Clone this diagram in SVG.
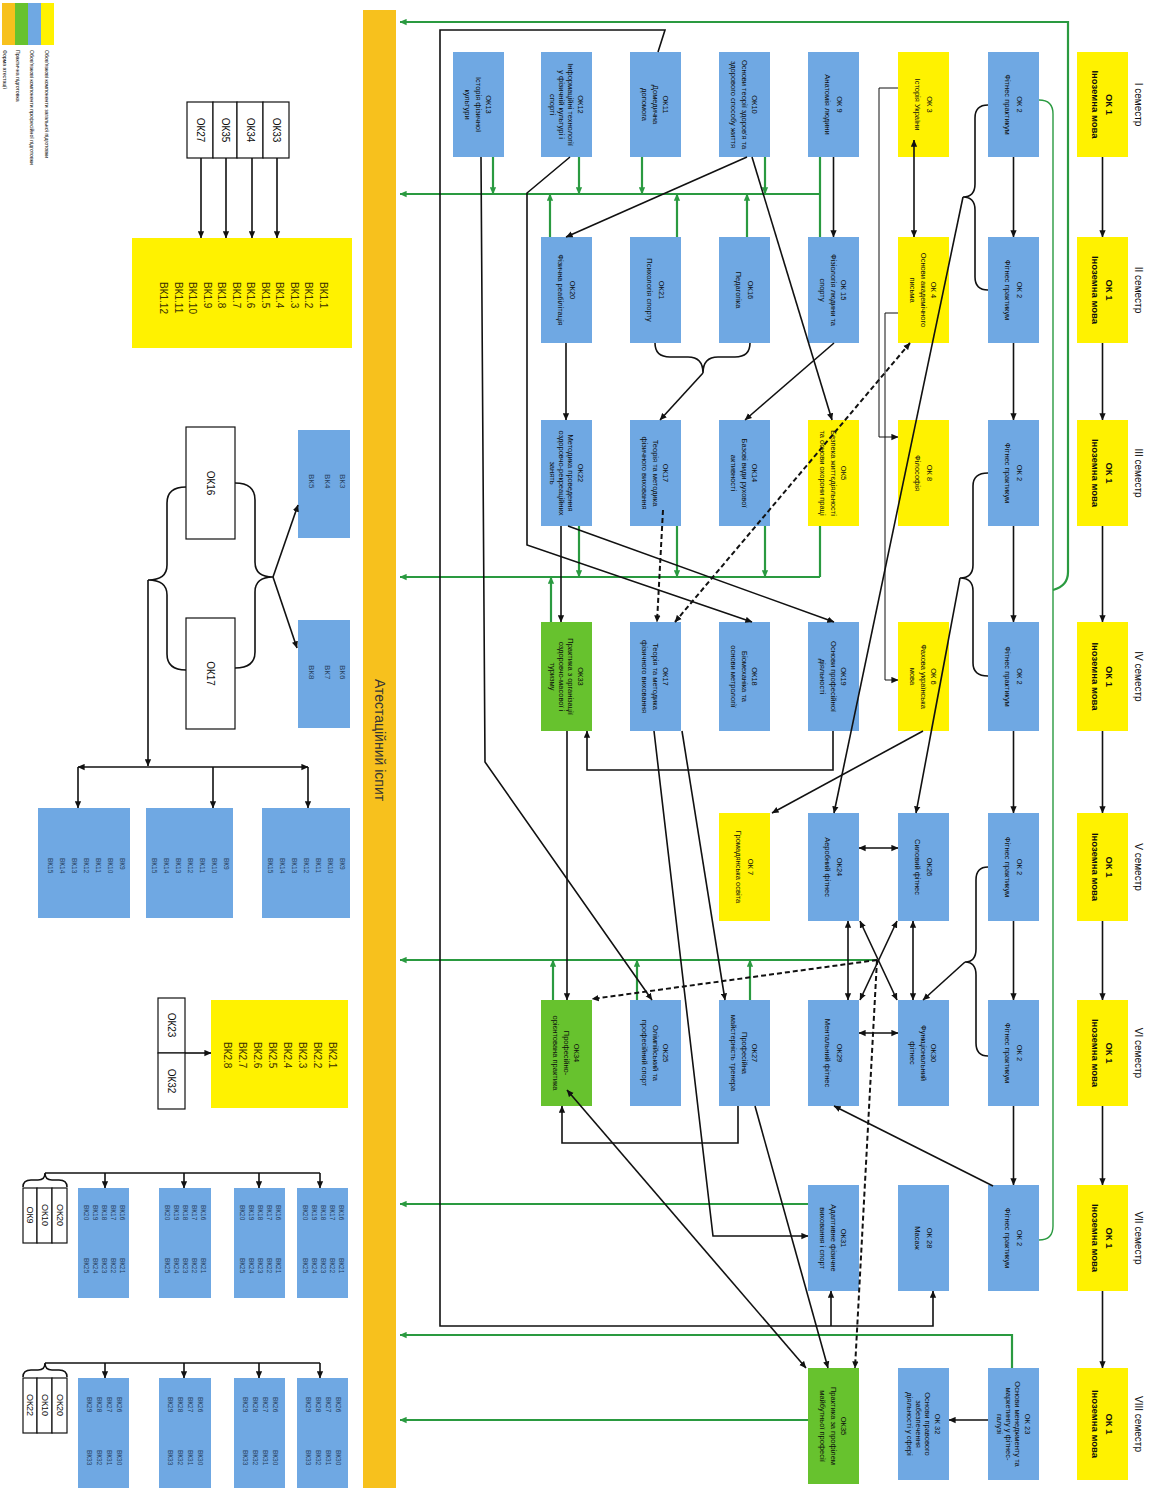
<svg xmlns="http://www.w3.org/2000/svg" width="1152" height="1490" viewBox="0 0 1152 1490">
<defs>
<style>
.b{fill:#6fa8e3}.y{fill:#fff200}.g{fill:#67c22e}.w{fill:#fff;stroke:#111;stroke-width:1.2}.o{fill:#f7c11d}
text,tspan{font-family:"Liberation Sans",Arial,sans-serif;dominant-baseline:central}
text{fill:#0d0d0d}
.t{font-size:7.5px;text-anchor:middle}
.t1{font-size:9.5px;font-weight:bold;text-anchor:middle}
.tw{font-size:10px;text-anchor:middle}
.ls{font-size:10px;text-anchor:start;fill:#3a3000}
.lb{font-size:8px;text-anchor:start;fill:#27415e}
.lt{font-size:6.5px;text-anchor:start;fill:#27415e}
.sem{font-size:10px;text-anchor:middle}
.lg{font-size:5.2px;text-anchor:start}
.ex{font-size:14px;text-anchor:middle;fill:#333}
.c{fill:none;stroke:#111;stroke-width:1.6}
.th{fill:none;stroke:#111;stroke-width:1}
.d{fill:none;stroke:#111;stroke-width:2;stroke-dasharray:5 3}
.gl{fill:none;stroke:#2a9a40;stroke-width:2.2}
.gt{fill:none;stroke:#2a9a40;stroke-width:1.4}
.ae{marker-end:url(#ab)}
.a2{marker-end:url(#ab);marker-start:url(#ab)}
.ge{marker-end:url(#ag)}
</style>
<marker id="ab" viewBox="0 0 10 10" refX="9.5" refY="5" markerWidth="7" markerHeight="7" markerUnits="userSpaceOnUse" orient="auto-start-reverse"><path d="M0,0.5 L10,5 L0,9.5z" fill="#111"/></marker>
<marker id="ag" viewBox="0 0 10 10" refX="9.5" refY="5" markerWidth="7" markerHeight="7" markerUnits="userSpaceOnUse" orient="auto-start-reverse"><path d="M0,0.5 L10,5 L0,9.5z" fill="#2a9a40"/></marker>
</defs>
<rect width="1152" height="1490" fill="#fff"/>

<g id="legend">
<rect class="o" x="2" y="3" width="13" height="42"/><rect class="g" x="15" y="3" width="13" height="42"/><rect class="b" x="28" y="3" width="13" height="42"/><rect class="y" x="41" y="3" width="13" height="42"/>
<text class="lg" transform="translate(47,50) rotate(90)">Обов'язкові компоненти загальної підготовки</text>
<text class="lg" transform="translate(32,50) rotate(90)">Обов'язкові компоненти професійної підготовки</text>
<text class="lg" transform="translate(18,50) rotate(90)">Практична підготовка</text>
<text class="lg" transform="translate(5,50) rotate(90)">Форма атестації</text>
</g>

<g id="exam"><rect class="o" x="363" y="10" width="33" height="1478"/><text class="ex" transform="translate(380,740) rotate(90)">Атестаційний іспит</text></g>

<g id="semesters">
<text class="sem" transform="translate(1138,104.5) rotate(90)">I семестр</text>
<text class="sem" transform="translate(1138,290) rotate(90)">II семестр</text>
<text class="sem" transform="translate(1138,473) rotate(90)">III семестр</text>
<text class="sem" transform="translate(1138,676.5) rotate(90)">IV семестр</text>
<text class="sem" transform="translate(1138,867) rotate(90)">V семестр</text>
<text class="sem" transform="translate(1138,1053) rotate(90)">VI семестр</text>
<text class="sem" transform="translate(1138,1238) rotate(90)">VII семестр</text>
<text class="sem" transform="translate(1138,1424) rotate(90)">VIII семестр</text>
</g>

<!-- Column A: OK1 -->
<g id="ok1-s1"><rect class="y" x="1077" y="52" width="51" height="105"/><text class="t1" transform="translate(1102.5,104.5) rotate(90)"><tspan x="0" y="-7">ОК 1</tspan><tspan x="0" y="7">Іноземна мова</tspan></text></g>
<g id="ok1-s2"><rect class="y" x="1077" y="237" width="51" height="106"/><text class="t1" transform="translate(1102.5,290) rotate(90)"><tspan x="0" y="-7">ОК 1</tspan><tspan x="0" y="7">Іноземна мова</tspan></text></g>
<g id="ok1-s3"><rect class="y" x="1077" y="420" width="51" height="106"/><text class="t1" transform="translate(1102.5,473) rotate(90)"><tspan x="0" y="-7">ОК 1</tspan><tspan x="0" y="7">Іноземна мова</tspan></text></g>
<g id="ok1-s4"><rect class="y" x="1077" y="622" width="51" height="109"/><text class="t1" transform="translate(1102.5,676.5) rotate(90)"><tspan x="0" y="-7">ОК 1</tspan><tspan x="0" y="7">Іноземна мова</tspan></text></g>
<g id="ok1-s5"><rect class="y" x="1077" y="813" width="51" height="108"/><text class="t1" transform="translate(1102.5,867) rotate(90)"><tspan x="0" y="-7">ОК 1</tspan><tspan x="0" y="7">Іноземна мова</tspan></text></g>
<g id="ok1-s6"><rect class="y" x="1077" y="1000" width="51" height="106"/><text class="t1" transform="translate(1102.5,1053) rotate(90)"><tspan x="0" y="-7">ОК 1</tspan><tspan x="0" y="7">Іноземна мова</tspan></text></g>
<g id="ok1-s7"><rect class="y" x="1077" y="1185" width="51" height="106"/><text class="t1" transform="translate(1102.5,1238) rotate(90)"><tspan x="0" y="-7">ОК 1</tspan><tspan x="0" y="7">Іноземна мова</tspan></text></g>
<g id="ok1-s8"><rect class="y" x="1077" y="1368" width="51" height="112"/><text class="t1" transform="translate(1102.5,1424) rotate(90)"><tspan x="0" y="-7">ОК 1</tspan><tspan x="0" y="7">Іноземна мова</tspan></text></g>

<!-- Column B -->
<g id="ok2-s1"><rect class="b" x="988" y="52" width="51" height="105"/><text class="t" transform="translate(1013.5,104.5) rotate(90)"><tspan x="0" y="-6">ОК 2</tspan><tspan x="0" y="6">Фітнес практикум</tspan></text></g>
<g id="ok2-s2"><rect class="b" x="988" y="237" width="51" height="106"/><text class="t" transform="translate(1013.5,290) rotate(90)"><tspan x="0" y="-6">ОК 2</tspan><tspan x="0" y="6">Фітнес практикум</tspan></text></g>
<g id="ok2-s3"><rect class="b" x="988" y="420" width="51" height="106"/><text class="t" transform="translate(1013.5,473) rotate(90)"><tspan x="0" y="-6">ОК 2</tspan><tspan x="0" y="6">Фітнес практикум</tspan></text></g>
<g id="ok2-s4"><rect class="b" x="988" y="622" width="51" height="109"/><text class="t" transform="translate(1013.5,676.5) rotate(90)"><tspan x="0" y="-6">ОК 2</tspan><tspan x="0" y="6">Фітнес практикум</tspan></text></g>
<g id="ok2-s5"><rect class="b" x="988" y="813" width="51" height="108"/><text class="t" transform="translate(1013.5,867) rotate(90)"><tspan x="0" y="-6">ОК 2</tspan><tspan x="0" y="6">Фітнес практикум</tspan></text></g>
<g id="ok2-s6"><rect class="b" x="988" y="1000" width="51" height="106"/><text class="t" transform="translate(1013.5,1053) rotate(90)"><tspan x="0" y="-6">ОК 2</tspan><tspan x="0" y="6">Фітнес практикум</tspan></text></g>
<g id="ok2-s7"><rect class="b" x="988" y="1185" width="51" height="106"/><text class="t" transform="translate(1013.5,1238) rotate(90)"><tspan x="0" y="-6">ОК 2</tspan><tspan x="0" y="6">Фітнес практикум</tspan></text></g>
<g id="ok23"><rect class="b" x="988" y="1368" width="51" height="112"/><text class="t" transform="translate(1013.5,1424) rotate(90)"><tspan x="0" y="-14">ОК 23</tspan><tspan x="0" y="-4.7">Основи менеджменту та</tspan><tspan x="0" y="4.7">маркетингу у фітнес-</tspan><tspan x="0" y="14">галузі</tspan></text></g>

<!-- Column C -->
<g id="ok3"><rect class="y" x="898" y="52" width="51" height="105"/><text class="t" transform="translate(923.5,104.5) rotate(90)"><tspan x="0" y="-6">ОК 3</tspan><tspan x="0" y="6">Історія України</tspan></text></g>
<g id="ok4"><rect class="y" x="898" y="237" width="51" height="106"/><text class="t" transform="translate(923.5,290) rotate(90)"><tspan x="0" y="-10.5">ОК 4</tspan><tspan x="0" y="0">Основи академічного</tspan><tspan x="0" y="10.5">письма</tspan></text></g>
<g id="ok8"><rect class="y" x="898" y="420" width="51" height="106"/><text class="t" transform="translate(923.5,473) rotate(90)"><tspan x="0" y="-6">ОК 8</tspan><tspan x="0" y="6">Філософія</tspan></text></g>
<g id="ok6"><rect class="y" x="898" y="622" width="51" height="109"/><text class="t" transform="translate(923.5,676.5) rotate(90)"><tspan x="0" y="-10.5">ОК 6</tspan><tspan x="0" y="0">Фахова українська</tspan><tspan x="0" y="10.5">мова</tspan></text></g>
<g id="ok26"><rect class="b" x="898" y="813" width="51" height="108"/><text class="t" transform="translate(923.5,867) rotate(90)"><tspan x="0" y="-6">ОК26</tspan><tspan x="0" y="6">Силовий фітнес</tspan></text></g>
<g id="ok30"><rect class="b" x="898" y="1000" width="51" height="106"/><text class="t" transform="translate(923.5,1053) rotate(90)"><tspan x="0" y="-10.5">ОК30</tspan><tspan x="0" y="0">Функціональний</tspan><tspan x="0" y="10.5">фітнес</tspan></text></g>
<g id="ok28"><rect class="b" x="898" y="1185" width="51" height="106"/><text class="t" transform="translate(923.5,1238) rotate(90)"><tspan x="0" y="-6">ОК 28</tspan><tspan x="0" y="6">Масаж</tspan></text></g>
<g id="ok32"><rect class="b" x="898" y="1368" width="51" height="112"/><text class="t" transform="translate(923.5,1424) rotate(90)"><tspan x="0" y="-14">ОК 32</tspan><tspan x="0" y="-4.7">Основи правового</tspan><tspan x="0" y="4.7">забезпечення</tspan><tspan x="0" y="14">діяльності у сфері</tspan></text></g>

<!-- Column D -->
<g id="ok9"><rect class="b" x="808" y="52" width="51" height="105"/><text class="t" transform="translate(833.5,104.5) rotate(90)"><tspan x="0" y="-6">ОК 9</tspan><tspan x="0" y="6">Анатомія людини</tspan></text></g>
<g id="ok15"><rect class="b" x="808" y="237" width="51" height="106"/><text class="t" transform="translate(833.5,290) rotate(90)"><tspan x="0" y="-10.5">ОК 15</tspan><tspan x="0" y="0">Фізіологія людини та</tspan><tspan x="0" y="10.5">спорту</tspan></text></g>
<g id="ok5"><rect class="y" x="808" y="420" width="51" height="106"/><text class="t" transform="translate(833.5,473) rotate(90)"><tspan x="0" y="-10.5">ОК5</tspan><tspan x="0" y="0">Безпека життєдіяльності</tspan><tspan x="0" y="10.5">та основи охорони праці</tspan></text></g>
<g id="ok19"><rect class="b" x="808" y="622" width="51" height="109"/><text class="t" transform="translate(833.5,676.5) rotate(90)"><tspan x="0" y="-10.5">ОК19</tspan><tspan x="0" y="0">Основи професійної</tspan><tspan x="0" y="10.5">діяльності</tspan></text></g>
<g id="ok24"><rect class="b" x="808" y="813" width="51" height="108"/><text class="t" transform="translate(833.5,867) rotate(90)"><tspan x="0" y="-6">ОК24</tspan><tspan x="0" y="6">Аеробний фітнес</tspan></text></g>
<g id="ok29"><rect class="b" x="808" y="1000" width="51" height="106"/><text class="t" transform="translate(833.5,1053) rotate(90)"><tspan x="0" y="-6">ОК29</tspan><tspan x="0" y="6">Ментальний фітнес</tspan></text></g>
<g id="ok31"><rect class="b" x="808" y="1185" width="51" height="106"/><text class="t" transform="translate(833.5,1238) rotate(90)"><tspan x="0" y="-10.5">ОК31</tspan><tspan x="0" y="0">Адаптивне фізичне</tspan><tspan x="0" y="10.5">виховання і спорт</tspan></text></g>
<g id="ok35"><rect class="g" x="808" y="1368" width="51" height="116"/><text class="t" transform="translate(833.5,1426) rotate(90)"><tspan x="0" y="-10.5">ОК35</tspan><tspan x="0" y="0">Практика за профілем</tspan><tspan x="0" y="10.5">майбутньої професії</tspan></text></g>

<!-- Column E -->
<g id="ok10"><rect class="b" x="719" y="52" width="51" height="105"/><text class="t" transform="translate(744.5,104.5) rotate(90)"><tspan x="0" y="-10.5">ОК10</tspan><tspan x="0" y="0">Основи теорії здоров'я та</tspan><tspan x="0" y="10.5">здорового способу життя</tspan></text></g>
<g id="ok16"><rect class="b" x="719" y="237" width="51" height="106"/><text class="t" transform="translate(744.5,290) rotate(90)"><tspan x="0" y="-6">ОК16</tspan><tspan x="0" y="6">Педагогіка</tspan></text></g>
<g id="ok14"><rect class="b" x="719" y="420" width="51" height="106"/><text class="t" transform="translate(744.5,473) rotate(90)"><tspan x="0" y="-10.5">ОК14</tspan><tspan x="0" y="0">Базові види рухової</tspan><tspan x="0" y="10.5">активності</tspan></text></g>
<g id="ok18"><rect class="b" x="719" y="622" width="51" height="109"/><text class="t" transform="translate(744.5,676.5) rotate(90)"><tspan x="0" y="-10.5">ОК18</tspan><tspan x="0" y="0">Біомеханіка та</tspan><tspan x="0" y="10.5">основи метрології</tspan></text></g>
<g id="ok7"><rect class="y" x="719" y="813" width="51" height="108"/><text class="t" transform="translate(744.5,867) rotate(90)"><tspan x="0" y="-6">ОК 7</tspan><tspan x="0" y="6">Громадянська освіта</tspan></text></g>
<g id="ok27"><rect class="b" x="719" y="1000" width="51" height="106"/><text class="t" transform="translate(744.5,1053) rotate(90)"><tspan x="0" y="-10.5">ОК27</tspan><tspan x="0" y="0">Професійна</tspan><tspan x="0" y="10.5">майстерність тренера</tspan></text></g>

<!-- Column F -->
<g id="ok11"><rect class="b" x="630" y="52" width="51" height="105"/><text class="t" transform="translate(655.5,104.5) rotate(90)"><tspan x="0" y="-10.5">ОК11</tspan><tspan x="0" y="0">Домедична</tspan><tspan x="0" y="10.5">допомога</tspan></text></g>
<g id="ok21"><rect class="b" x="630" y="237" width="51" height="106"/><text class="t" transform="translate(655.5,290) rotate(90)"><tspan x="0" y="-6">ОК21</tspan><tspan x="0" y="6">Психологія спорту</tspan></text></g>
<g id="ok17-s3"><rect class="b" x="630" y="420" width="51" height="106"/><text class="t" transform="translate(655.5,473) rotate(90)"><tspan x="0" y="-10.5">ОК17</tspan><tspan x="0" y="0">Теорія та методика</tspan><tspan x="0" y="10.5">фізичного виховання</tspan></text></g>
<g id="ok17-s4"><rect class="b" x="630" y="622" width="51" height="109"/><text class="t" transform="translate(655.5,676.5) rotate(90)"><tspan x="0" y="-10.5">ОК17</tspan><tspan x="0" y="0">Теорія та методика</tspan><tspan x="0" y="10.5">фізичного виховання</tspan></text></g>
<g id="ok25"><rect class="b" x="630" y="1000" width="51" height="106"/><text class="t" transform="translate(655.5,1053) rotate(90)"><tspan x="0" y="-10.5">ОК25</tspan><tspan x="0" y="0">Олімпійський та</tspan><tspan x="0" y="10.5">професійний спорт</tspan></text></g>

<!-- Column G -->
<g id="ok12"><rect class="b" x="541" y="52" width="51" height="105"/><text class="t" transform="translate(566.5,104.5) rotate(90)"><tspan x="0" y="-14">ОК12</tspan><tspan x="0" y="-4.7">Інформаційні технології</tspan><tspan x="0" y="4.7">у фізичній культурі і</tspan><tspan x="0" y="14">спорті</tspan></text></g>
<g id="ok20"><rect class="b" x="541" y="237" width="51" height="106"/><text class="t" transform="translate(566.5,290) rotate(90)"><tspan x="0" y="-6">ОК20</tspan><tspan x="0" y="6">Фізична реабілітація</tspan></text></g>
<g id="ok22"><rect class="b" x="541" y="420" width="51" height="106"/><text class="t" transform="translate(566.5,473) rotate(90)"><tspan x="0" y="-14">ОК22</tspan><tspan x="0" y="-4.7">Методика проведення</tspan><tspan x="0" y="4.7">оздоровчо-рекреаційних</tspan><tspan x="0" y="14">занять</tspan></text></g>
<g id="ok33"><rect class="g" x="541" y="622" width="51" height="109"/><text class="t" transform="translate(566.5,676.5) rotate(90)"><tspan x="0" y="-14">ОК33</tspan><tspan x="0" y="-4.7">Практика з організації</tspan><tspan x="0" y="4.7">оздоровчо-масової і</tspan><tspan x="0" y="14">туризму</tspan></text></g>
<g id="ok34"><rect class="g" x="541" y="1000" width="51" height="106"/><text class="t" transform="translate(566.5,1053) rotate(90)"><tspan x="0" y="-10.5">ОК34</tspan><tspan x="0" y="0">Професійно-</tspan><tspan x="0" y="10.5">орієнтована практика</tspan></text></g>

<!-- Column H -->
<g id="ok13"><rect class="b" x="453" y="52" width="51" height="105"/><text class="t" transform="translate(478.5,104.5) rotate(90)"><tspan x="0" y="-10.5">ОК13</tspan><tspan x="0" y="0">Історія фізичної</tspan><tspan x="0" y="10.5">культури</tspan></text></g>

<!-- Left side: elective blocks -->
<g id="ref-ok27-35-34-33">
<rect class="w" x="187" y="102" width="26" height="56"/><rect class="w" x="213" y="102" width="24" height="56"/><rect class="w" x="237" y="102" width="26" height="56"/><rect class="w" x="263" y="102" width="26" height="56"/>
<text class="tw" transform="translate(200,130) rotate(90)">ОК27</text><text class="tw" transform="translate(225,130) rotate(90)">ОК35</text><text class="tw" transform="translate(250,130) rotate(90)">ОК34</text><text class="tw" transform="translate(276,130) rotate(90)">ОК33</text>
</g>
<g id="vk1"><rect class="y" x="132" y="238" width="220" height="110"/>
<text class="ls" transform="translate(323,282) rotate(90)">ВК1.1</text><text class="ls" transform="translate(308.5,282) rotate(90)">ВК1.2</text><text class="ls" transform="translate(294,282) rotate(90)">ВК1.3</text><text class="ls" transform="translate(279.5,282) rotate(90)">ВК1.4</text><text class="ls" transform="translate(265,282) rotate(90)">ВК1.5</text><text class="ls" transform="translate(250.5,282) rotate(90)">ВК1.6</text><text class="ls" transform="translate(236,282) rotate(90)">ВК1.7</text><text class="ls" transform="translate(221.5,282) rotate(90)">ВК1.8</text><text class="ls" transform="translate(207,282) rotate(90)">ВК1.9</text><text class="ls" transform="translate(192.5,282) rotate(90)">ВК1.10</text><text class="ls" transform="translate(178,282) rotate(90)">ВК1.11</text><text class="ls" transform="translate(163.5,282) rotate(90)">ВК1.12</text>
</g>
<g id="ref-ok16"><rect class="w" x="186" y="427" width="49" height="112"/><text class="tw" transform="translate(210.5,483) rotate(90)">ОК16</text></g>
<g id="ref-ok17"><rect class="w" x="186" y="618" width="49" height="111"/><text class="tw" transform="translate(210.5,673.5) rotate(90)">ОК17</text></g>
<g id="vk3-5"><rect class="b" x="298" y="430" width="52" height="108"/><text class="lb" transform="translate(342,474) rotate(90)">ВК3</text><text class="lb" transform="translate(327,474) rotate(90)">ВК4</text><text class="lb" transform="translate(311,474) rotate(90)">ВК5</text></g>
<g id="vk6-8"><rect class="b" x="298" y="620" width="52" height="108"/><text class="lb" transform="translate(342,665) rotate(90)">ВК6</text><text class="lb" transform="translate(327,665) rotate(90)">ВК7</text><text class="lb" transform="translate(311,665) rotate(90)">ВК8</text></g>
<g id="vk9-a"><rect class="b" x="262" y="808" width="88" height="110"/>
<text class="lt" transform="translate(342,858) rotate(90)">ВК9</text><text class="lt" transform="translate(330,858) rotate(90)">ВК10</text><text class="lt" transform="translate(318,858) rotate(90)">ВК11</text><text class="lt" transform="translate(306,858) rotate(90)">ВК12</text><text class="lt" transform="translate(294,858) rotate(90)">ВК13</text><text class="lt" transform="translate(282,858) rotate(90)">ВК14</text><text class="lt" transform="translate(270,858) rotate(90)">ВК15</text></g>
<g id="vk9-b"><rect class="b" x="146" y="808" width="87" height="110"/>
<text class="lt" transform="translate(226,858) rotate(90)">ВК9</text><text class="lt" transform="translate(214,858) rotate(90)">ВК10</text><text class="lt" transform="translate(202,858) rotate(90)">ВК11</text><text class="lt" transform="translate(190,858) rotate(90)">ВК12</text><text class="lt" transform="translate(178,858) rotate(90)">ВК13</text><text class="lt" transform="translate(166,858) rotate(90)">ВК14</text><text class="lt" transform="translate(154,858) rotate(90)">ВК15</text></g>
<g id="vk9-c"><rect class="b" x="38" y="808" width="92" height="110"/>
<text class="lt" transform="translate(122,858) rotate(90)">ВК9</text><text class="lt" transform="translate(110,858) rotate(90)">ВК10</text><text class="lt" transform="translate(98,858) rotate(90)">ВК11</text><text class="lt" transform="translate(86,858) rotate(90)">ВК12</text><text class="lt" transform="translate(74,858) rotate(90)">ВК13</text><text class="lt" transform="translate(62,858) rotate(90)">ВК14</text><text class="lt" transform="translate(50,858) rotate(90)">ВК15</text></g>
<g id="vk2"><rect class="y" x="211" y="1000" width="137" height="108"/>
<text class="ls" transform="translate(332,1042) rotate(90)">ВК2.1</text><text class="ls" transform="translate(317,1042) rotate(90)">ВК2.2</text><text class="ls" transform="translate(302,1042) rotate(90)">ВК2.3</text><text class="ls" transform="translate(287,1042) rotate(90)">ВК2.4</text><text class="ls" transform="translate(272,1042) rotate(90)">ВК2.5</text><text class="ls" transform="translate(257,1042) rotate(90)">ВК2.6</text><text class="ls" transform="translate(242,1042) rotate(90)">ВК2.7</text><text class="ls" transform="translate(227,1042) rotate(90)">ВК2.8</text></g>
<g id="ref-ok23-32"><rect class="w" x="158" y="998" width="27" height="55"/><rect class="w" x="158" y="1053" width="27" height="56"/><text class="tw" transform="translate(171.5,1025) rotate(90)">ОК23</text><text class="tw" transform="translate(171.5,1081) rotate(90)">ОК32</text></g>

<g id="vk-g1">
<rect class="b" x="297" y="1188" width="51" height="110"/><rect class="b" x="234" y="1188" width="51" height="110"/><rect class="b" x="159" y="1188" width="52" height="110"/><rect class="b" x="78" y="1188" width="51" height="110"/>
<text class="lt" transform="translate(341,1205) rotate(90)">ВК16</text><text class="lt" transform="translate(332,1205) rotate(90)">ВК17</text><text class="lt" transform="translate(323,1205) rotate(90)">ВК18</text><text class="lt" transform="translate(314,1205) rotate(90)">ВК19</text><text class="lt" transform="translate(305,1205) rotate(90)">ВК20</text>
<text class="lt" transform="translate(341,1258) rotate(90)">ВК21</text><text class="lt" transform="translate(332,1258) rotate(90)">ВК22</text><text class="lt" transform="translate(323,1258) rotate(90)">ВК23</text><text class="lt" transform="translate(314,1258) rotate(90)">ВК24</text><text class="lt" transform="translate(305,1258) rotate(90)">ВК25</text>
<text class="lt" transform="translate(278,1205) rotate(90)">ВК16</text><text class="lt" transform="translate(269,1205) rotate(90)">ВК17</text><text class="lt" transform="translate(260,1205) rotate(90)">ВК18</text><text class="lt" transform="translate(251,1205) rotate(90)">ВК19</text><text class="lt" transform="translate(242,1205) rotate(90)">ВК20</text>
<text class="lt" transform="translate(278,1258) rotate(90)">ВК21</text><text class="lt" transform="translate(269,1258) rotate(90)">ВК22</text><text class="lt" transform="translate(260,1258) rotate(90)">ВК23</text><text class="lt" transform="translate(251,1258) rotate(90)">ВК24</text><text class="lt" transform="translate(242,1258) rotate(90)">ВК25</text>
<text class="lt" transform="translate(203,1205) rotate(90)">ВК16</text><text class="lt" transform="translate(194,1205) rotate(90)">ВК17</text><text class="lt" transform="translate(185,1205) rotate(90)">ВК18</text><text class="lt" transform="translate(176,1205) rotate(90)">ВК19</text><text class="lt" transform="translate(167,1205) rotate(90)">ВК20</text>
<text class="lt" transform="translate(203,1258) rotate(90)">ВК21</text><text class="lt" transform="translate(194,1258) rotate(90)">ВК22</text><text class="lt" transform="translate(185,1258) rotate(90)">ВК23</text><text class="lt" transform="translate(176,1258) rotate(90)">ВК24</text><text class="lt" transform="translate(167,1258) rotate(90)">ВК25</text>
<text class="lt" transform="translate(122,1205) rotate(90)">ВК16</text><text class="lt" transform="translate(113,1205) rotate(90)">ВК17</text><text class="lt" transform="translate(104,1205) rotate(90)">ВК18</text><text class="lt" transform="translate(95,1205) rotate(90)">ВК19</text><text class="lt" transform="translate(86,1205) rotate(90)">ВК20</text>
<text class="lt" transform="translate(122,1258) rotate(90)">ВК21</text><text class="lt" transform="translate(113,1258) rotate(90)">ВК22</text><text class="lt" transform="translate(104,1258) rotate(90)">ВК23</text><text class="lt" transform="translate(95,1258) rotate(90)">ВК24</text><text class="lt" transform="translate(86,1258) rotate(90)">ВК25</text>
</g>
<g id="ref-g1"><rect class="w" x="23" y="1188" width="14" height="55"/><rect class="w" x="37" y="1188" width="15" height="55"/><rect class="w" x="52" y="1188" width="15" height="55"/>
<text class="tw" style="font-size:9px" transform="translate(30,1215) rotate(90)">ОК9</text><text class="tw" style="font-size:9px" transform="translate(44.5,1215) rotate(90)">ОК10</text><text class="tw" style="font-size:9px" transform="translate(59.5,1215) rotate(90)">ОК20</text></g>

<g id="vk-g2">
<rect class="b" x="297" y="1378" width="51" height="110"/><rect class="b" x="234" y="1378" width="51" height="110"/><rect class="b" x="159" y="1378" width="52" height="110"/><rect class="b" x="78" y="1378" width="51" height="110"/>
<text class="lt" transform="translate(338,1397) rotate(90)">ВК26</text><text class="lt" transform="translate(328,1397) rotate(90)">ВК27</text><text class="lt" transform="translate(318,1397) rotate(90)">ВК28</text><text class="lt" transform="translate(308,1397) rotate(90)">ВК29</text>
<text class="lt" transform="translate(338,1450) rotate(90)">ВК30</text><text class="lt" transform="translate(328,1450) rotate(90)">ВК31</text><text class="lt" transform="translate(318,1450) rotate(90)">ВК32</text><text class="lt" transform="translate(308,1450) rotate(90)">ВК33</text>
<text class="lt" transform="translate(275,1397) rotate(90)">ВК26</text><text class="lt" transform="translate(265,1397) rotate(90)">ВК27</text><text class="lt" transform="translate(255,1397) rotate(90)">ВК28</text><text class="lt" transform="translate(245,1397) rotate(90)">ВК29</text>
<text class="lt" transform="translate(275,1450) rotate(90)">ВК30</text><text class="lt" transform="translate(265,1450) rotate(90)">ВК31</text><text class="lt" transform="translate(255,1450) rotate(90)">ВК32</text><text class="lt" transform="translate(245,1450) rotate(90)">ВК33</text>
<text class="lt" transform="translate(200,1397) rotate(90)">ВК26</text><text class="lt" transform="translate(190,1397) rotate(90)">ВК27</text><text class="lt" transform="translate(180,1397) rotate(90)">ВК28</text><text class="lt" transform="translate(170,1397) rotate(90)">ВК29</text>
<text class="lt" transform="translate(200,1450) rotate(90)">ВК30</text><text class="lt" transform="translate(190,1450) rotate(90)">ВК31</text><text class="lt" transform="translate(180,1450) rotate(90)">ВК32</text><text class="lt" transform="translate(170,1450) rotate(90)">ВК33</text>
<text class="lt" transform="translate(119,1397) rotate(90)">ВК26</text><text class="lt" transform="translate(109,1397) rotate(90)">ВК27</text><text class="lt" transform="translate(99,1397) rotate(90)">ВК28</text><text class="lt" transform="translate(89,1397) rotate(90)">ВК29</text>
<text class="lt" transform="translate(119,1450) rotate(90)">ВК30</text><text class="lt" transform="translate(109,1450) rotate(90)">ВК31</text><text class="lt" transform="translate(99,1450) rotate(90)">ВК32</text><text class="lt" transform="translate(89,1450) rotate(90)">ВК33</text>
</g>
<g id="ref-g2"><rect class="w" x="23" y="1378" width="14" height="55"/><rect class="w" x="37" y="1378" width="15" height="55"/><rect class="w" x="52" y="1378" width="15" height="55"/>
<text class="tw" style="font-size:9px" transform="translate(30,1405) rotate(90)">ОК22</text><text class="tw" style="font-size:9px" transform="translate(44.5,1405) rotate(90)">ОК10</text><text class="tw" style="font-size:9px" transform="translate(59.5,1405) rotate(90)">ОК20</text></g>

<g id="connectors">
<!-- green lines to exam -->
<path class="gl ge" d="M1053,590 Q1068,586 1068,572 L1068,22 L400,22"/>
<path class="gt" d="M1039,100 Q1053,100 1053,114 L1053,1226 Q1053,1240 1039,1240"/>
<path class="gl ge" d="M820,194 L400,194"/>
<path class="gl" d="M820,157 L820,237"/>
<path class="gl ge" d="M493,157 L493,194"/><path class="gl ge" d="M579,157 L579,194"/><path class="gl ge" d="M642,157 L642,194"/><path class="gl ge" d="M765,157 L765,194"/>
<path class="gl ge" d="M550,237 L550,194"/><path class="gl ge" d="M677,237 L677,194"/><path class="gl ge" d="M747,237 L747,194"/>
<path class="gl ge" d="M820,577 L400,577"/>
<path class="gl ge" d="M579,526 L579,577"/><path class="gl ge" d="M677,526 L677,577"/><path class="gl ge" d="M765,526 L765,577"/><path class="gl" d="M820,526 L820,577"/>
<path class="gl ge" d="M551,622 L551,577"/>
<path class="gl ge" d="M877,960 L400,960"/>
<path class="gl ge" d="M553,1000 L553,960"/><path class="gl ge" d="M637,1000 L637,960"/><path class="gl ge" d="M750,1000 L750,960"/>
<path class="gl ge" d="M808,1204 L400,1204"/>
<path class="gl ge" d="M1012,1368 L1012,1335 L400,1335"/>
<path class="gl ge" d="M808,1420 L400,1420"/>

<!-- OK1 and OK2 chains -->
<path class="c ae" d="M1102.5,157 L1102.5,237"/><path class="c ae" d="M1102.5,343 L1102.5,420"/><path class="c ae" d="M1102.5,526 L1102.5,622"/><path class="c ae" d="M1102.5,731 L1102.5,813"/><path class="c ae" d="M1102.5,921 L1102.5,1000"/><path class="c ae" d="M1102.5,1106 L1102.5,1185"/><path class="c ae" d="M1102.5,1291 L1102.5,1368"/>
<path class="c ae" d="M1013.5,157 L1013.5,237"/><path class="c ae" d="M1013.5,343 L1013.5,420"/><path class="c ae" d="M1013.5,526 L1013.5,622"/><path class="c ae" d="M1013.5,731 L1013.5,813"/><path class="c ae" d="M1013.5,921 L1013.5,1000"/><path class="c ae" d="M1013.5,1106 L1013.5,1185"/>

<!-- braces from OK2 -->
<path class="c" d="M988,105 Q975,105 975,118 L975,184 Q975,197 963,197 Q975,197 975,210 L975,277 Q975,290 988,290"/>
<path class="c ae" d="M963,197 L834,813"/>
<path class="c" d="M988,473 Q973,473 973,486 L973,565 Q973,578 960,578 Q973,578 973,591 L973,663 Q973,676 988,676"/>
<path class="c ae" d="M960,578 L916,813"/>
<path class="c" d="M988,867 Q976,867 976,880 L976,949 Q976,962 965,962 Q976,962 976,975 L976,1043 Q976,1056 988,1056"/>
<path class="c ae" d="M965,962 L923,1000"/>
<path class="c ae" d="M993,1186 L834,1106"/>

<!-- column C links -->
<path class="c a2" d="M914,140 L914,237"/>
<path class="th ae" d="M898,88 L879,88 L879,437 L898,437"/>
<path class="th ae" d="M898,313 L885,313 L885,680 L898,680"/>
<path class="c ae" d="M923,731 L772,813"/>

<!-- S1-S4 links -->
<path class="c ae" d="M833.5,157 L833.5,237"/>
<path class="c ae" d="M834,343 L745,420"/>
<path class="c ae" d="M747,157 L566,237"/>
<path class="c ae" d="M752,157 L832,420"/>
<path class="c" d="M655,343 Q655,357 670,357 L688,357 Q703,357 703,373 Q703,357 718,357 L735,357 Q750,357 750,343"/>
<path class="c ae" d="M703,373 L660,420"/>
<path class="c ae" d="M566,343 L566,420"/>
<path class="c ae" d="M561,526 L561,622"/>
<path class="c ae" d="M570,157 L527,193 L527,545 L752,622"/>
<path class="c ae" d="M568,526 L834,622"/>
<path class="c ae" d="M833,731 L833,770 L587,770 L587,731"/>
<path class="c ae" d="M567,731 L567,1000"/>
<path class="c ae" d="M738,1106 L738,1143 L562,1143 L562,1106"/>
<path class="c ae" d="M654,731 L713,1236 L808,1236"/>
<path class="c ae" d="M682,731 L725,1000"/>
<path class="c ae" d="M755,1106 L828,1368"/>
<path class="c a2" d="M567,1090 L806,1368"/>
<path class="c ae" d="M481,157 L485,762 L652,1000"/>
<path class="c ae" d="M658,52 L665,30 L440,30 L440,1326 L933,1326 L933,1291"/>
<path class="c ae" d="M831,1326 L831,1291"/>
<path class="c ae" d="M988,1420 L949,1420"/>

<!-- fitness cluster -->
<path class="c a2" d="M859,848 L898,848"/>
<path class="c a2" d="M859,1033 L898,1033"/>
<path class="c a2" d="M848,921 L848,1000"/>
<path class="c a2" d="M913,921 L913,1000"/>
<path class="c a2" d="M860,921 L897,1000"/>
<path class="c a2" d="M897,921 L860,1000"/>

<!-- dashed -->
<path class="d ae" d="M663,510 L657,622"/>
<path class="d a2" d="M910,343 L675,622"/>
<path class="d ae" d="M877,960 L592,999"/>
<path class="d ae" d="M877,960 L855,1368"/>

<!-- left side -->
<path class="c ae" d="M201,158 L201,238"/><path class="c ae" d="M226,158 L226,238"/><path class="c ae" d="M252,158 L252,238"/><path class="c ae" d="M277,158 L277,238"/>
<path class="c" d="M235,483 Q255,483 255,500 L255,562 Q255,577 273,577 Q255,577 255,592 L255,652 Q255,668 235,668"/>
<path class="c" d="M186,487 Q167,487 167,503 L167,565 Q167,580 148,580 Q167,580 167,595 L167,654 Q167,670 186,670"/>
<path class="c ae" d="M273,577 L298,505"/><path class="c ae" d="M273,577 L297,648"/>
<path class="c ae" d="M148,580 L148,766"/>
<path class="c a2" d="M78,767 L308,767"/>
<path class="c ae" d="M78,767 L78,808"/><path class="c ae" d="M213,767 L213,808"/><path class="c ae" d="M308,767 L308,808"/>
<path class="c ae" d="M185,1053 L211,1053"/>
<path class="c" d="M23,1187 Q23,1180 31,1180 L38,1180 Q45,1180 45,1173 Q45,1180 52,1180 L59,1180 Q67,1180 67,1187"/>
<path class="c" d="M45,1173 L320,1173"/>
<path class="c ae" d="M105,1173 L105,1188"/><path class="c ae" d="M184,1173 L184,1188"/><path class="c ae" d="M259,1173 L259,1188"/><path class="c ae" d="M320,1173 L320,1188"/>
<path class="c" d="M23,1377 Q23,1370 31,1370 L38,1370 Q45,1370 45,1363 Q45,1370 52,1370 L59,1370 Q67,1370 67,1377"/>
<path class="c" d="M45,1363 L320,1363"/>
<path class="c ae" d="M105,1363 L105,1378"/><path class="c ae" d="M184,1363 L184,1378"/><path class="c ae" d="M259,1363 L259,1378"/><path class="c ae" d="M320,1363 L320,1378"/>
</g>
</svg>
